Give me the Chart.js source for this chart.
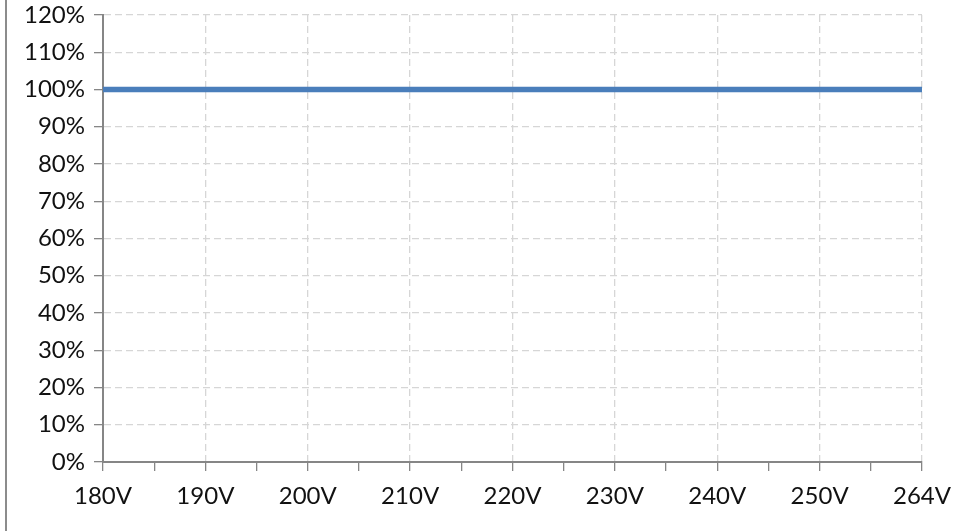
<!DOCTYPE html>
<html><head><meta charset="utf-8">
<script src="https://cdn.jsdelivr.net/npm/chart.js@4"></script>
<style>
html,body{margin:0;padding:0;background:#fff;font-family:Lato;}
#wrap{position:relative;width:962px;height:531px;overflow:hidden;}
#frame{position:absolute;left:5px;top:0;width:2px;height:531px;background:#8c8c8c;}
canvas{position:absolute;left:0;top:0;}
</style>
</head><body>
<div id="wrap"><div id="frame"></div><canvas id="c" width="962" height="531"></canvas></div>
<script>
const voltages = ['180V','185V','190V','195V','200V','205V','210V','215V','220V','225V','230V','235V','240V','245V','250V','257V','264V'];
const efficiency = [100,100,100,100,100,100,100,100,100,100,100,100,100,100,100,100,100];
const yMin = 0, yMax = 120, yStep = 10;

const FONT = {family: 'Lato', size: 24};
const AXIS = '#868686', GRID = '#d6d6d6';

function draw() {
new Chart(document.getElementById('c'), {
  type: 'line',
  data: {
    labels: voltages,
    datasets: [{
      data: efficiency,
      borderColor: '#4a7ebb',
      borderWidth: 5.5,
      pointRadius: 0,
      tension: 0,
      fill: false
    }]
  },
  options: {
    responsive: false,
    devicePixelRatio: 1,
    animation: false,
    layout: {padding: {left: 0, top: 15, right: 40, bottom: 0}},
    plugins: {legend: {display: false}, tooltip: {enabled: false}},
    scales: {
      x: {
        grid: {
          color: c => (c.index % 2 ? 'rgba(0,0,0,0)' : GRID),
          tickColor: AXIS,
          tickLength: 9,
          lineWidth: 1.3,
          drawTicks: true
        },
        border: {display: true, color: AXIS, width: 2, dash: [7, 4]},
        ticks: {
          autoSkip: false,
          maxRotation: 0,
          color: '#111',
          font: FONT,
          padding: 11,
          callback: function(v, i) { return i % 2 ? '' : this.getLabelForValue(v); }
        },
        afterFit: s => { s.height = 69; }
      },
      y: {
        min: yMin, max: yMax,
        grid: {color: GRID, tickColor: AXIS, tickLength: 9, lineWidth: 1.3},
        border: {display: true, color: AXIS, width: 2, dash: [7, 4]},
        ticks: {
          stepSize: yStep,
          color: '#111',
          font: FONT,
          padding: 9,
          callback: v => v + '%'
        },
        afterFit: s => { s.width = 103; s.paddingTop = 0; s.paddingBottom = 0; }
      }
    }
  }
});
}
if (document.fonts && document.fonts.load) {
  document.fonts.load('24px Lato').then(draw, draw);
} else { draw(); }
</script>
</body></html>
